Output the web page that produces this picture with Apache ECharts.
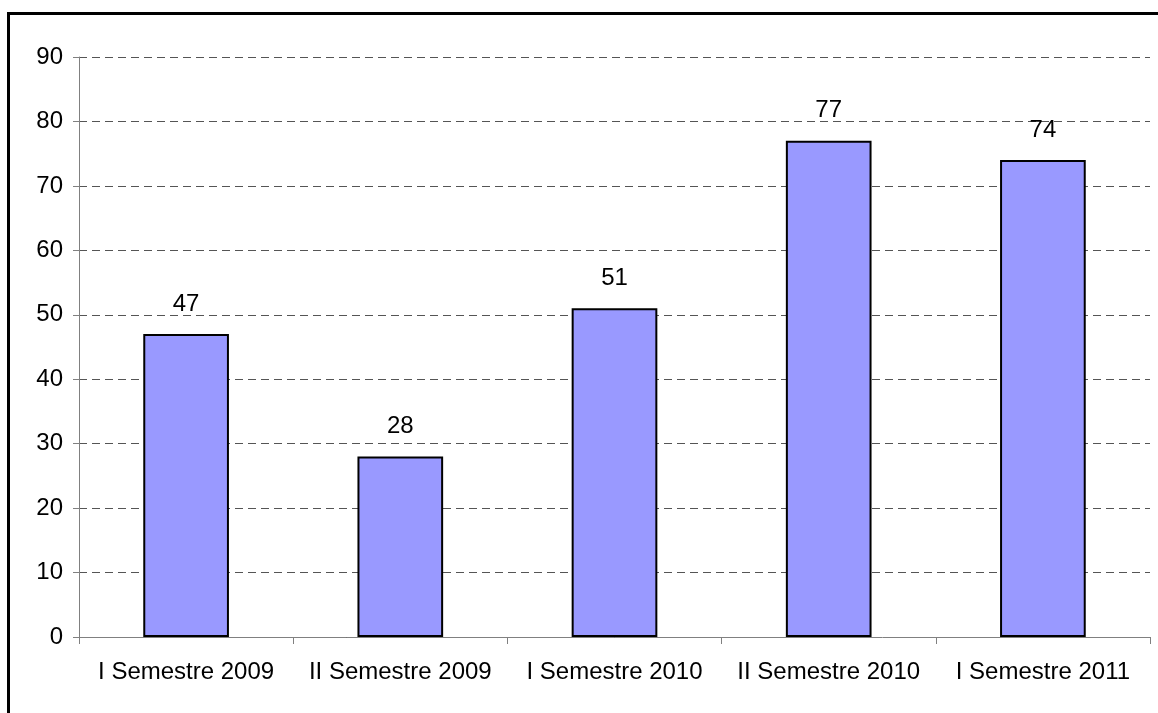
<!DOCTYPE html>
<html><head><meta charset="utf-8">
<script src="https://cdn.jsdelivr.net/npm/echarts@6/dist/echarts.min.js"></script>
<style>html,body{margin:0;padding:0;background:#fff}#c{width:1158px;height:713px}</style>
</head><body><div id="c"></div>
<script>
const categories = ['I Semestre 2009','II Semestre 2009','I Semestre 2010','II Semestre 2010','I Semestre 2011'];
const values = [47, 28, 51, 77, 74];
const yTicks = [0, 10, 20, 30, 40, 50, 60, 70, 80, 90];

const chart = echarts.init(document.getElementById('c'), null, {renderer:'canvas'});
const font = 'Liberation Sans, Arial, sans-serif';
chart.setOption({
  animation:false,
  backgroundColor:'#fff',
  graphic:[{type:'rect', shape:{x:8.5, y:13.5, width:1160, height:710}, style:{fill:'none', stroke:'#000', lineWidth:3}, silent:true}],
  grid:{left:79, right:8, top:57, bottom:76, containLabel:false},
  xAxis:{type:'category', data:categories, boundaryGap:true,
    axisLine:{lineStyle:{color:'#808080', width:1}},
    axisTick:{show:true, alignWithLabel:false, length:7, lineStyle:{color:'#808080'}},
    axisLabel:{color:'#000', fontFamily:font, fontSize:24, margin:23, interval:0, letterSpacing:-0.4}},
  yAxis:{type:'value', min:yTicks[0], max:yTicks[yTicks.length-1], interval:10,
    axisLine:{show:true, lineStyle:{color:'#808080', width:1}},
    axisTick:{show:true, length:6, lineStyle:{color:'#808080'}},
    axisLabel:{color:'#000', fontFamily:font, fontSize:24, margin:16},
    splitLine:{show:true, lineStyle:{color:'#555', type:[8,5], width:1}}},
  series:[{type:'bar', data:values, barWidth:'40%',
    itemStyle:{color:'#9999FF', borderColor:'#000', borderWidth:2},
    label:{show:true, position:'top', distance:18, color:'#000', fontFamily:font, fontSize:24}}]
});
</script></body></html>
